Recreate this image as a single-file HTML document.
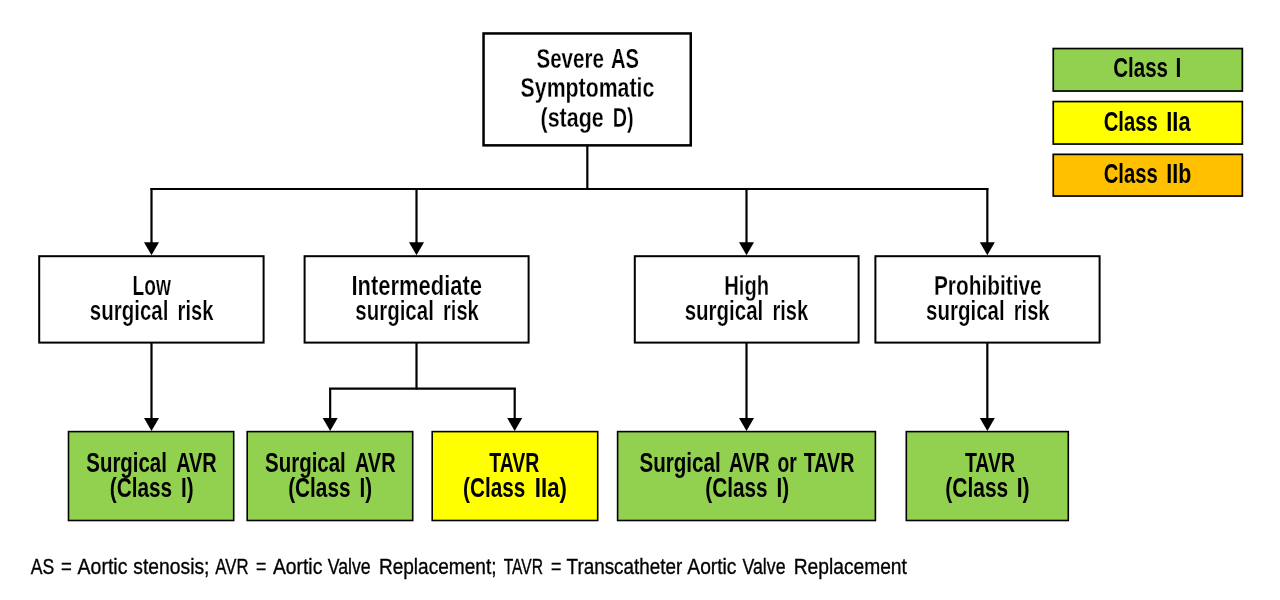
<!DOCTYPE html>
<html><head><meta charset="utf-8"><style>
html,body{margin:0;padding:0;background:#fff;width:1280px;height:600px;overflow:hidden}
svg{display:block;will-change:transform}
text{font-family:"Liberation Sans",sans-serif}
</style></head><body>
<svg width="1280" height="600" viewBox="0 0 1280 600">
<rect x="1053.25" y="48.55" width="189.10" height="42.50" fill="#92d050" stroke="#000" stroke-width="1.7"/>
<rect x="1053.25" y="101.55" width="189.10" height="42.50" fill="#ffff00" stroke="#000" stroke-width="1.7"/>
<rect x="1053.25" y="154.35" width="189.10" height="41.70" fill="#ffc000" stroke="#000" stroke-width="1.7"/>
<text transform="translate(1113.20,77.4) scale(0.7466,1)" font-size="27.5" font-weight="bold" fill="#000">Class</text>
<text transform="translate(1175.56,77.4) scale(0.7600,1)" font-size="27.5" font-weight="bold" fill="#000">I</text>
<text transform="translate(1103.70,130.7) scale(0.7357,1)" font-size="27.5" font-weight="bold" fill="#000">Class</text>
<text transform="translate(1166.30,130.7) scale(0.7922,1)" font-size="27.5" font-weight="bold" fill="#000">IIa</text>
<text transform="translate(1103.70,182.7) scale(0.7357,1)" font-size="27.5" font-weight="bold" fill="#000">Class</text>
<text transform="translate(1166.30,182.7) scale(0.7788,1)" font-size="27.5" font-weight="bold" fill="#000">IIb</text>
<rect x="483.55" y="33.45" width="207.20" height="111.90" fill="#fff" stroke="#000" stroke-width="2.5"/>
<text transform="translate(536.55,67.5) scale(0.7456,1)" font-size="27.5" font-weight="bold" fill="#000" stroke="#fff" stroke-width="0.25">Severe</text>
<text transform="translate(610.90,67.5) scale(0.7343,1)" font-size="27.5" font-weight="bold" fill="#000" stroke="#fff" stroke-width="0.25">AS</text>
<text transform="translate(520.60,97) scale(0.7748,1)" font-size="27.5" font-weight="bold" fill="#000" stroke="#fff" stroke-width="0.25">Symptomatic</text>
<text transform="translate(540.50,126.7) scale(0.7802,1)" font-size="27.5" font-weight="bold" fill="#000" stroke="#fff" stroke-width="0.25">(stage</text>
<text transform="translate(612.70,126.7) scale(0.7207,1)" font-size="27.5" font-weight="bold" fill="#000" stroke="#fff" stroke-width="0.25">D)</text>
<line x1="587.33" y1="146" x2="587.33" y2="189.5" stroke="#000" stroke-width="2.2"/>
<line x1="150.4" y1="189" x2="988.4" y2="189" stroke="#000" stroke-width="2.2"/>
<line x1="151.5" y1="188" x2="151.5" y2="243.3" stroke="#000" stroke-width="2.2"/><polygon points="144.0,242.3 159.0,242.3 151.5,255.3" fill="#000"/>
<line x1="416.5" y1="188" x2="416.5" y2="243.3" stroke="#000" stroke-width="2.2"/><polygon points="409.0,242.3 424.0,242.3 416.5,255.3" fill="#000"/>
<line x1="746.5" y1="188" x2="746.5" y2="243.3" stroke="#000" stroke-width="2.2"/><polygon points="739.0,242.3 754.0,242.3 746.5,255.3" fill="#000"/>
<line x1="987.33" y1="188" x2="987.33" y2="243.3" stroke="#000" stroke-width="2.2"/><polygon points="979.83,242.3 994.83,242.3 987.33,255.3" fill="#000"/>
<rect x="39.20" y="256.20" width="224.40" height="86.40" fill="#fff" stroke="#000" stroke-width="2"/>
<rect x="304.60" y="256.20" width="224.00" height="86.40" fill="#fff" stroke="#000" stroke-width="2"/>
<rect x="634.80" y="256.20" width="223.80" height="86.40" fill="#fff" stroke="#000" stroke-width="2"/>
<rect x="875.40" y="256.20" width="224.20" height="86.40" fill="#fff" stroke="#000" stroke-width="2"/>
<text transform="translate(132.50,295) scale(0.6969,1)" font-size="27.5" font-weight="bold" fill="#000" stroke="#fff" stroke-width="0.25">Low</text>
<text transform="translate(89.86,319.7) scale(0.7454,1)" font-size="27.5" font-weight="bold" fill="#000" stroke="#fff" stroke-width="0.25">surgical</text>
<text transform="translate(177.60,319.7) scale(0.7306,1)" font-size="27.5" font-weight="bold" fill="#000" stroke="#fff" stroke-width="0.25">risk</text>
<text transform="translate(351.40,295) scale(0.7994,1)" font-size="27.5" font-weight="bold" fill="#000" stroke="#fff" stroke-width="0.25">Intermediate</text>
<text transform="translate(355.26,319.7) scale(0.7454,1)" font-size="27.5" font-weight="bold" fill="#000" stroke="#fff" stroke-width="0.25">surgical</text>
<text transform="translate(443.00,319.7) scale(0.7306,1)" font-size="27.5" font-weight="bold" fill="#000" stroke="#fff" stroke-width="0.25">risk</text>
<text transform="translate(724.30,295) scale(0.7332,1)" font-size="27.5" font-weight="bold" fill="#000" stroke="#fff" stroke-width="0.25">High</text>
<text transform="translate(684.66,319.7) scale(0.7454,1)" font-size="27.5" font-weight="bold" fill="#000" stroke="#fff" stroke-width="0.25">surgical</text>
<text transform="translate(772.40,319.7) scale(0.7306,1)" font-size="27.5" font-weight="bold" fill="#000" stroke="#fff" stroke-width="0.25">risk</text>
<text transform="translate(933.90,295) scale(0.7586,1)" font-size="27.5" font-weight="bold" fill="#000" stroke="#fff" stroke-width="0.25">Prohibitive</text>
<text transform="translate(926.06,319.7) scale(0.7454,1)" font-size="27.5" font-weight="bold" fill="#000" stroke="#fff" stroke-width="0.25">surgical</text>
<text transform="translate(1013.80,319.7) scale(0.7306,1)" font-size="27.5" font-weight="bold" fill="#000" stroke="#fff" stroke-width="0.25">risk</text>
<line x1="151.5" y1="343" x2="151.5" y2="419" stroke="#000" stroke-width="2.2"/><polygon points="144.0,418 159.0,418 151.5,431" fill="#000"/>
<line x1="416.5" y1="343" x2="416.5" y2="389.6" stroke="#000" stroke-width="2.2"/>
<line x1="329.07" y1="388.57" x2="515.8" y2="388.57" stroke="#000" stroke-width="2.2"/>
<line x1="330.17" y1="388" x2="330.17" y2="419" stroke="#000" stroke-width="2.2"/><polygon points="322.67,418 337.67,418 330.17,431" fill="#000"/>
<line x1="514.7" y1="388" x2="514.7" y2="419" stroke="#000" stroke-width="2.2"/><polygon points="507.20000000000005,418 522.2,418 514.7,431" fill="#000"/>
<line x1="746.5" y1="343" x2="746.5" y2="419" stroke="#000" stroke-width="2.2"/><polygon points="739.0,418 754.0,418 746.5,431" fill="#000"/>
<line x1="987.33" y1="343" x2="987.33" y2="419" stroke="#000" stroke-width="2.2"/><polygon points="979.83,418 994.83,418 987.33,431" fill="#000"/>
<rect x="68.50" y="431.60" width="165.20" height="88.90" fill="#92d050" stroke="#000" stroke-width="1.6"/>
<rect x="247.20" y="431.60" width="165.50" height="88.90" fill="#92d050" stroke="#000" stroke-width="1.6"/>
<rect x="432.20" y="431.60" width="165.50" height="88.90" fill="#ffff00" stroke="#000" stroke-width="1.6"/>
<rect x="617.60" y="431.60" width="257.80" height="88.90" fill="#92d050" stroke="#000" stroke-width="1.6"/>
<rect x="906.30" y="431.60" width="162.00" height="88.90" fill="#92d050" stroke="#000" stroke-width="1.6"/>
<text transform="translate(86.30,471.5) scale(0.7429,1)" font-size="27.5" font-weight="bold" fill="#000">Surgical</text>
<text transform="translate(176.15,471.5) scale(0.7241,1)" font-size="27.5" font-weight="bold" fill="#000">AVR</text>
<text transform="translate(109.85,497) scale(0.7552,1)" font-size="27.5" font-weight="bold" fill="#000">(Class</text>
<text transform="translate(181.05,497) scale(0.7500,1)" font-size="27.5" font-weight="bold" fill="#000">I)</text>
<text transform="translate(265.10,471.5) scale(0.7429,1)" font-size="27.5" font-weight="bold" fill="#000">Surgical</text>
<text transform="translate(354.95,471.5) scale(0.7241,1)" font-size="27.5" font-weight="bold" fill="#000">AVR</text>
<text transform="translate(288.20,497) scale(0.7552,1)" font-size="27.5" font-weight="bold" fill="#000">(Class</text>
<text transform="translate(359.40,497) scale(0.7500,1)" font-size="27.5" font-weight="bold" fill="#000">I)</text>
<text transform="translate(489.20,471.5) scale(0.7090,1)" font-size="27.5" font-weight="bold" fill="#000">TAVR</text>
<text transform="translate(463.10,497) scale(0.7539,1)" font-size="27.5" font-weight="bold" fill="#000">(Class</text>
<text transform="translate(534.80,497) scale(0.8086,1)" font-size="27.5" font-weight="bold" fill="#000">IIa)</text>
<text transform="translate(639.40,471.5) scale(0.7502,1)" font-size="27.5" font-weight="bold" fill="#000">Surgical</text>
<text transform="translate(729.00,471.5) scale(0.7232,1)" font-size="27.5" font-weight="bold" fill="#000">AVR</text>
<text transform="translate(777.40,471.5) scale(0.7018,1)" font-size="27.5" font-weight="bold" fill="#000">or</text>
<text transform="translate(803.70,471.5) scale(0.7161,1)" font-size="27.5" font-weight="bold" fill="#000">TAVR</text>
<text transform="translate(705.25,497) scale(0.7552,1)" font-size="27.5" font-weight="bold" fill="#000">(Class</text>
<text transform="translate(776.45,497) scale(0.7500,1)" font-size="27.5" font-weight="bold" fill="#000">I)</text>
<text transform="translate(964.90,471.5) scale(0.7090,1)" font-size="27.5" font-weight="bold" fill="#000">TAVR</text>
<text transform="translate(945.30,497) scale(0.7624,1)" font-size="27.5" font-weight="bold" fill="#000">(Class</text>
<text transform="translate(1016.70,497) scale(0.7679,1)" font-size="27.5" font-weight="bold" fill="#000">I)</text>
<text transform="translate(30.70,574.2) scale(0.7833,1)" font-size="22.5" font-weight="normal" fill="#000" stroke="#000" stroke-width="0.35">AS</text>
<text transform="translate(61.00,574.2) scale(0.8244,1)" font-size="22.5" font-weight="normal" fill="#000" stroke="#000" stroke-width="0.35">=</text>
<text transform="translate(77.60,574.2) scale(0.8661,1)" font-size="22.5" font-weight="normal" fill="#000" stroke="#000" stroke-width="0.35">Aortic</text>
<text transform="translate(133.30,574.2) scale(0.8581,1)" font-size="22.5" font-weight="normal" fill="#000" stroke="#000" stroke-width="0.35">stenosis;</text>
<text transform="translate(215.30,574.2) scale(0.7444,1)" font-size="22.5" font-weight="normal" fill="#000" stroke="#000" stroke-width="0.35">AVR</text>
<text transform="translate(256.00,574.2) scale(0.7863,1)" font-size="22.5" font-weight="normal" fill="#000" stroke="#000" stroke-width="0.35">=</text>
<text transform="translate(273.00,574.2) scale(0.8574,1)" font-size="22.5" font-weight="normal" fill="#000" stroke="#000" stroke-width="0.35">Aortic</text>
<text transform="translate(327.70,574.2) scale(0.7875,1)" font-size="22.5" font-weight="normal" fill="#000" stroke="#000" stroke-width="0.35">Valve</text>
<text transform="translate(378.90,574.2) scale(0.8473,1)" font-size="22.5" font-weight="normal" fill="#000" stroke="#000" stroke-width="0.35">Replacement;</text>
<text transform="translate(503.70,574.2) scale(0.6949,1)" font-size="22.5" font-weight="normal" fill="#000" stroke="#000" stroke-width="0.35">TAVR</text>
<text transform="translate(550.90,574.2) scale(0.7939,1)" font-size="22.5" font-weight="normal" fill="#000" stroke="#000" stroke-width="0.35">=</text>
<text transform="translate(566.60,574.2) scale(0.8391,1)" font-size="22.5" font-weight="normal" fill="#000" stroke="#000" stroke-width="0.35">Transcatheter</text>
<text transform="translate(687.30,574.2) scale(0.8557,1)" font-size="22.5" font-weight="normal" fill="#000" stroke="#000" stroke-width="0.35">Aortic</text>
<text transform="translate(742.50,574.2) scale(0.7875,1)" font-size="22.5" font-weight="normal" fill="#000" stroke="#000" stroke-width="0.35">Valve</text>
<text transform="translate(793.70,574.2) scale(0.8544,1)" font-size="22.5" font-weight="normal" fill="#000" stroke="#000" stroke-width="0.35">Replacement</text>
</svg>
</body></html>
